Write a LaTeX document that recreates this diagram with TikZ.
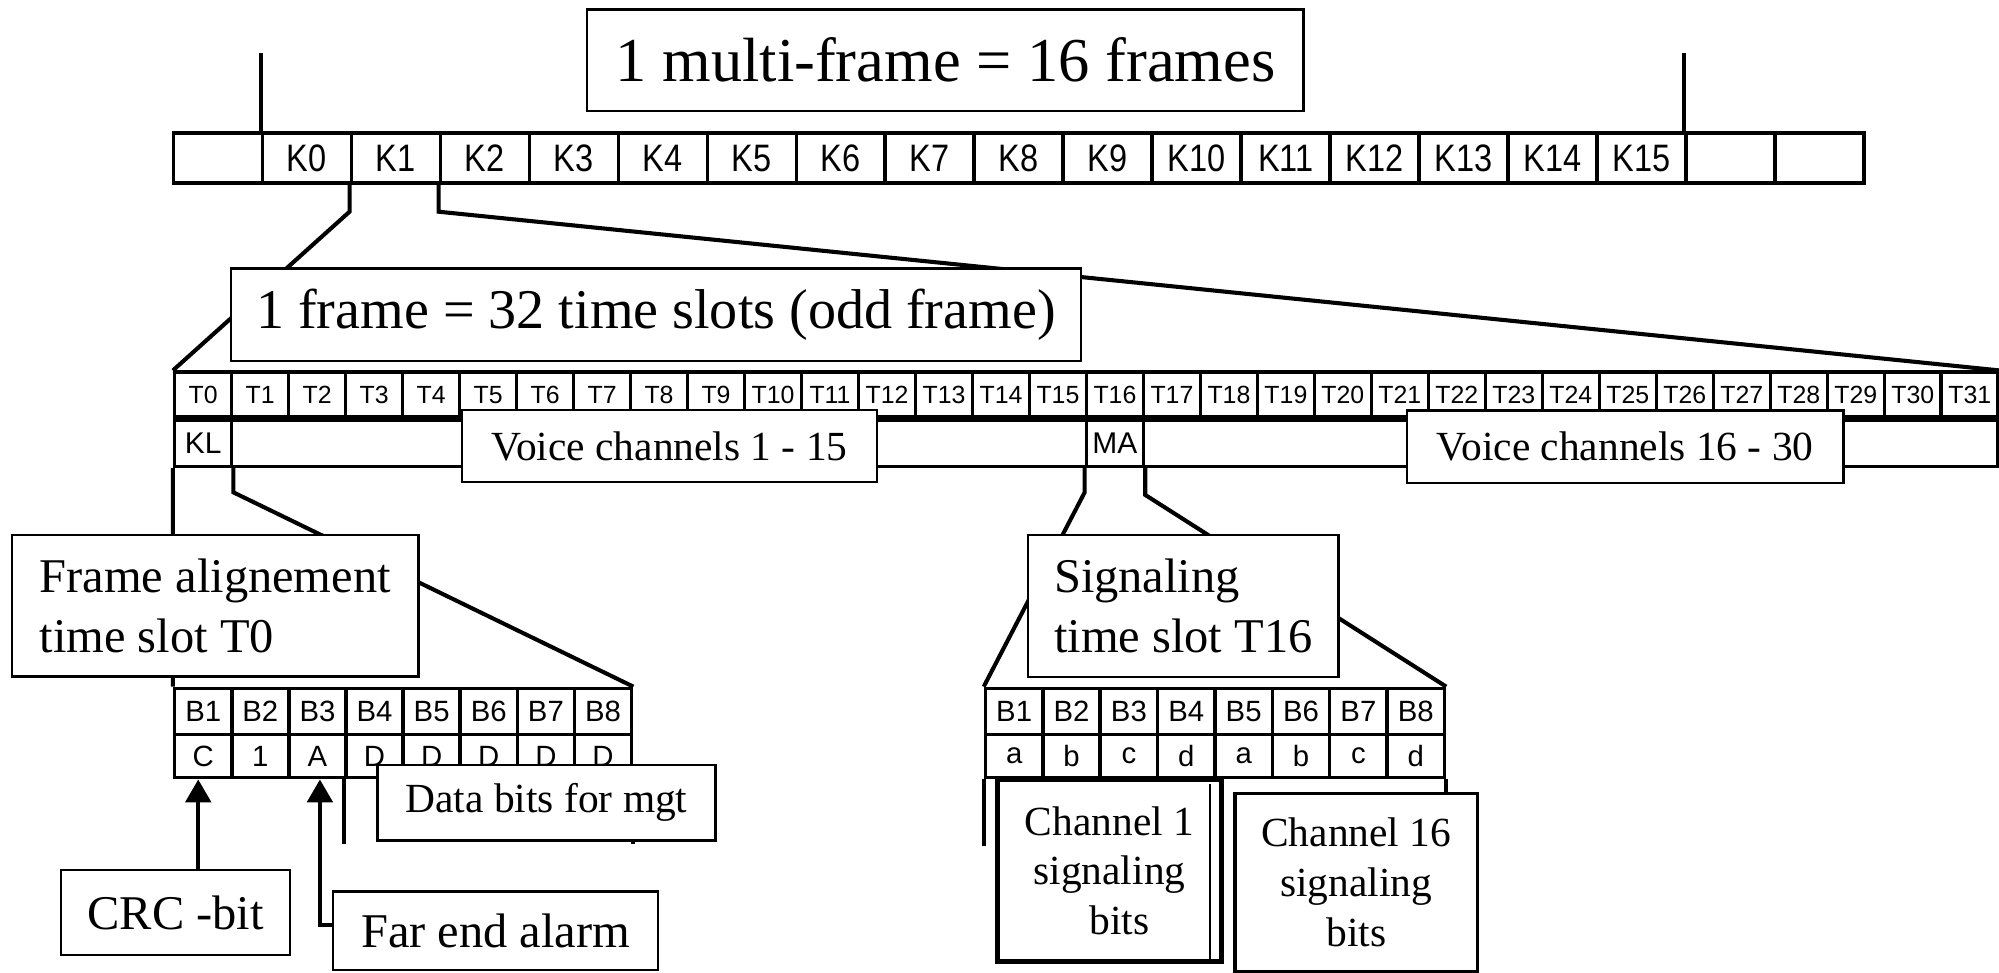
\documentclass[tikz,border=0pt]{standalone}
\usepackage{fontspec}
\setmainfont{Liberation Serif}
\newfontfamily\sansf{Liberation Sans}
\newfontfamily\sansn[FakeStretch=0.85]{Liberation Sans}
\usetikzlibrary{arrows.meta}
\begin{document}
\begin{tikzpicture}[x=1pt,y=-1pt,
  cell/.style={draw, line width=2.8pt, inner sep=0pt},
  kcell/.style={cell, minimum width=69.8pt, minimum height=39.3pt, font=\sansn\fontsize{30}{30}\selectfont},
  tcell/.style={cell, minimum width=44.7pt, minimum height=35pt, font=\sansf\fontsize{19.5}{19.5}\selectfont},
  rcell/.style={cell, minimum height=36pt, anchor=north west, font=\sansf\fontsize{23.5}{23.5}\selectfont},
  bcell/.style={cell, minimum height=36pt, font=\sansf\fontsize{23}{23}\selectfont},
  dcell/.style={cell, minimum height=34pt, font=\sansf\fontsize{23}{23}\selectfont},
  conn/.style={line width=3.2pt},
  box/.style={draw, line width=1.9pt, fill=white, inner sep=0pt, align=center},
  arr/.style={line width=3pt, -{Triangle[length=18pt,width=20pt]}}
]
\useasboundingbox (0,0) rectangle (1568,763);

% multi-frame bar
\node[kcell] (kc0) at ({136+34.9},124) {};
\foreach \i [evaluate=\i as \k using int(\i-1)] in {1,...,16}
  \node[kcell] (kc\i) at ({136+69.8*\i+34.9},124) {K\k};
\node[kcell] (kc17) at ({136+69.8*17+34.9},124) {};
\node[kcell] (kc18) at ({136+69.8*18+34.9},124) {};

% frame bar
\foreach \i in {0,...,31}
  \node[tcell] (t\i) at ({137+44.7*\i+22.35},309.5) {T\i};
\node[rcell, minimum width=44.7pt] (kl) at (t0.south west) {KL};
\node[rcell, minimum width=670.5pt] (span1) at (t1.south west) {};
\node[rcell, minimum width=44.7pt] (ma) at (t16.south west) {MA};
\node[rcell, minimum width=670.5pt] (span2) at (t17.south west) {};

% time slot T0 bits
\foreach \i in {1,...,8}
  \node[bcell, minimum width=44.8pt] (fb\i) at ({137+44.8*(\i-1)+22.4},558) {B\i};
\foreach \i/\l in {1/C,2/1,3/A,4/D,5/D,6/D,7/D,8/D}
  \node[dcell, minimum width=44.8pt] (fd\i) at ({137+44.8*(\i-1)+22.4},593) {\l};

% time slot T16 bits
\foreach \i in {1,...,8}
  \node[bcell, minimum width=45pt] (sb\i) at ({773+45*(\i-1)+22.5},558) {B\i};
\foreach \i/\l in {1/a,2/b,3/c,4/d,5/a,6/b,7/c,8/d}
  \node[dcell, minimum width=45pt] (sd\i) at ({773+45*(\i-1)+22.5},593) {\l};

% connectors
\draw[conn] (kc1.north west) -- ++(0,-61);
\draw[conn] (kc17.north west) -- ++(0,-61);
\draw[conn] (kc2.south west) -- ++(0,21) -- (t0.north west);
\draw[conn] (kc3.south west) -- ++(0,21) -- (t31.north east);
\draw[conn] (kl.south west) -- (fb1.north west);
\draw[conn] (kl.south east) -- ++(0,19) -- (fb8.north east);
\draw[conn] (ma.south west) -- ++(0,19) -- (sb1.north west);
\draw[conn] (ma.south east) -- ++(0,21) -- (sb8.north east);
\draw[conn] (fd4.south west) -- ++(0,51);
\draw[conn] (fd8.south east) -- ++(0,51);
\draw[conn] (sd1.south west) -- ++(0,52);
\draw[conn] (sd8.south east) -- ++(0,30);

% text boxes
\node[box, minimum width=562pt, minimum height=79.7pt, font=\fontsize{49}{58}\selectfont] (mf) at (741.6,47.2) {1 multi-frame = 16 frames};
\node[box, minimum width=667pt, minimum height=72.5pt, font=\fontsize{44}{52}\selectfont] (fr) at (514.5,246.8) {1 frame = 32 time slots (odd frame)};
\node[box, minimum width=325.6pt, minimum height=56.4pt, font=\fontsize{32.5}{39}\selectfont] (v1) at (525.2,349.8) {Voice channels 1 - 15};
\node[box, minimum width=342.3pt, minimum height=57pt, font=\fontsize{32.5}{39}\selectfont] (v2) at (1274.75,350.5) {Voice channels 16 - 30};
\node[box, align=left, minimum width=318.9pt, minimum height=111.1pt, font=\fontsize{38}{47}\selectfont] (fa) at (168.85,475.15) {Frame alignement\\time slot T0};
\node[box, align=left, minimum width=243.7pt, minimum height=111.2pt, font=\fontsize{38}{47}\selectfont] (sg) at (928.15,475.2) {Signaling\\time slot T16};
\node[box, minimum width=265.3pt, minimum height=59.4pt, font=\fontsize{32.5}{39}\selectfont] (db) at (428.65,629.7) {Data bits for mgt};
\node[box, minimum width=179.6pt, minimum height=66.6pt, font=\fontsize{38}{46}\selectfont] (crc) at (137.8,715.7) {CRC -bit};
\node[box, minimum width=254.9pt, minimum height=61.6pt, font=\fontsize{38}{46}\selectfont] (far) at (388.85,730.2) {Far end alarm};
\node[box, line width=3.5pt, minimum width=175.9pt, minimum height=142.5pt, font=\fontsize{32.5}{39}\selectfont] (ch1) at (870.25,683.05) {Channel 1\\signaling\hspace*{14pt}\\\hspace*{16pt}bits};
\node[box, line width=2.6pt, minimum width=190.3pt, minimum height=139.7pt, font=\fontsize{32.5}{39}\selectfont] (ch16) at (1063.85,692.15) {Channel 16\\signaling\hspace*{32pt}\\bits};
\draw[line width=1.5pt] ([xshift=-11pt,yshift=-5pt]ch1.north east) -- ([xshift=-11pt,yshift=4pt]ch1.south east);

% arrows
\coordinate (crcA) at ([xshift=17.7pt]crc.north);
\draw[arr] (crcA) -- (crcA |- fd1.south);
\coordinate (farA) at ([yshift=4.6pt]far.west);
\coordinate (farB) at ([xshift=-9.5pt]farA);
\draw[arr] (farA) -- (farB) -- (farB |- fd3.south);
\end{tikzpicture}
\end{document}
